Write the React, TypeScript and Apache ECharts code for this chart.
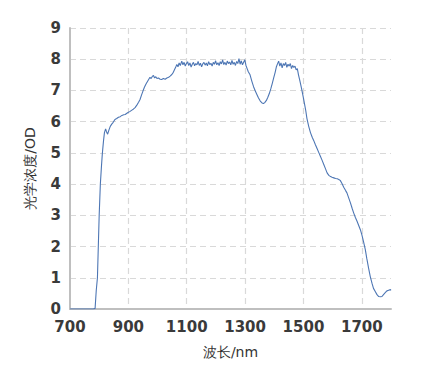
import React, { useEffect, useRef } from "react";
import * as echarts from "echarts";

const wavelength: number[] = [
  700, 780, 786, 790, 794, 797, 800, 804, 808, 811, 815, 818, 822, 825, 829, 833, 838, 843, 848, 854,
  860, 866, 872, 878, 884, 889, 895, 900, 906, 912, 917, 923, 929, 935, 940, 945, 950, 955, 960, 965,
  970, 974, 978, 982, 986, 990, 994, 998, 1003, 1009, 1014, 1020, 1026, 1032, 1038, 1043, 1049, 1054, 1058, 1062,
  1066, 1070, 1074, 1078, 1083, 1087, 1091, 1095, 1099, 1103, 1107, 1111, 1115, 1119, 1123, 1127, 1131, 1135, 1139, 1143,
  1147, 1151, 1155, 1159, 1163, 1167, 1171, 1175, 1179, 1183, 1187, 1191, 1195, 1199, 1203, 1207, 1211, 1215, 1219, 1223,
  1227, 1231, 1235, 1239, 1243, 1247, 1251, 1255, 1259, 1263, 1267, 1271, 1275, 1279, 1283, 1287, 1291, 1295, 1299, 1303,
  1307, 1311, 1317, 1323, 1329, 1335, 1340, 1346, 1352, 1358, 1363, 1368, 1373, 1378, 1383, 1388, 1393, 1398, 1403, 1407,
  1411, 1415, 1419, 1423, 1427, 1431, 1435, 1439, 1443, 1447, 1451, 1455, 1459, 1463, 1467, 1471, 1475, 1479, 1483, 1488,
  1493, 1498, 1503, 1508, 1512, 1518, 1524, 1530, 1535, 1541, 1547, 1553, 1558, 1564, 1570, 1576, 1581, 1587, 1593, 1598,
  1604, 1610, 1616, 1621, 1626, 1632, 1638, 1644, 1649, 1655, 1661, 1667, 1672, 1678, 1684, 1690, 1695, 1700, 1706, 1712,
  1717, 1723, 1729, 1735, 1740, 1746, 1752, 1758, 1764, 1769, 1775, 1781, 1786, 1792, 1798, 1800,
];

const opticalDensity: number[] = [
  0, 0, 0.02, 0.6, 1.0, 2.0, 3.0, 4.0, 4.6, 5.0, 5.4, 5.65, 5.77, 5.68, 5.6, 5.72, 5.85, 5.92, 5.98, 6.07,
  6.1, 6.14, 6.16, 6.2, 6.22, 6.23, 6.27, 6.3, 6.33, 6.37, 6.4, 6.45, 6.53, 6.62, 6.71, 6.85, 6.98, 7.1, 7.2, 7.28,
  7.36, 7.42, 7.38, 7.45, 7.48, 7.4, 7.44, 7.38, 7.4, 7.36, 7.35, 7.38, 7.36, 7.4, 7.42, 7.46, 7.51, 7.58, 7.66, 7.74,
  7.83, 7.76, 7.88, 7.8, 7.94, 7.82, 7.9, 7.78, 7.86, 7.92, 7.8, 7.88, 7.75, 7.84, 7.9, 7.79, 7.86, 7.82, 7.93, 7.8,
  7.87, 7.76, 7.85, 7.9, 7.81, 7.88, 7.79, 7.92, 7.83, 7.87, 7.78, 7.9, 7.84, 7.95, 7.82, 7.89, 7.8, 7.92, 7.85, 7.98,
  7.83, 7.9, 7.81, 7.94, 7.86, 7.91, 7.82, 7.96, 7.84, 7.9, 7.8, 7.93, 7.86, 8.02, 7.84, 7.95, 7.82, 7.9, 7.98, 7.8,
  7.7, 7.6, 7.5, 7.3, 7.12, 6.98, 6.88, 6.76, 6.66, 6.6, 6.58, 6.62, 6.68, 6.78, 6.9, 7.05, 7.22, 7.4, 7.58, 7.75,
  7.85, 7.94, 7.78, 7.88, 7.72, 7.86, 7.8, 7.9, 7.74, 7.84, 7.78, 7.86, 7.7, 7.8, 7.74, 7.78, 7.66, 7.7, 7.5, 7.3,
  7.08, 6.85, 6.6, 6.35, 6.1, 5.85, 5.65, 5.5, 5.4, 5.26, 5.13, 5.0, 4.89, 4.76, 4.62, 4.48, 4.36, 4.28, 4.24, 4.22,
  4.2, 4.18, 4.17, 4.15, 4.12, 4.02, 3.9, 3.8, 3.72, 3.56, 3.4, 3.22, 3.08, 2.93, 2.8, 2.66, 2.54, 2.38, 2.15, 1.9,
  1.62, 1.32, 1.04, 0.82, 0.66, 0.56, 0.46, 0.4, 0.39, 0.4, 0.47, 0.53, 0.58, 0.6, 0.62, 0.6,
];

const xAxisName = "波长/nm";
const yAxisName = "光学浓度/OD";

export default function App() {
  const ref = useRef<HTMLDivElement>(null);
  useEffect(() => {
    if (!ref.current) return;
    const chart = echarts.init(ref.current, undefined, { renderer: "svg" });
    const data = wavelength.map((w, i) => [w, opticalDensity[i]]);
    const font = "'DejaVu Sans', sans-serif";
    chart.setOption({
      animation: false,
      backgroundColor: "#ffffff",
      grid: { left: 62, right: 22, top: 20, bottom: 66, containLabel: false },
      xAxis: {
        type: "value",
        min: 700,
        max: 1800,
        interval: 200,
        name: xAxisName,
        nameLocation: "middle",
        nameGap: 36,
        nameTextStyle: { color: "#333", fontSize: 14, fontFamily: font },
        axisLine: { show: true, lineStyle: { color: "#bfbfbf", width: 2 } },
        axisTick: { show: false },
        axisLabel: {
          color: "#3a3a3a",
          fontSize: 15,
          fontWeight: "bold",
          fontFamily: font,
          margin: 10,
          showMaxLabel: false,
          formatter: (v: number) => String(v),
        },
        splitLine: {
          show: true,
          showMinLine: false,
          showMaxLine: false,
          lineStyle: { color: "#d9d9d9", type: [6, 4], width: 1.2 },
        },
      },
      yAxis: {
        type: "value",
        min: 0,
        max: 9,
        interval: 1,
        name: yAxisName,
        nameLocation: "middle",
        nameGap: 33,
        nameRotate: 90,
        nameTextStyle: { color: "#333", fontSize: 14, fontFamily: font },
        axisLine: { show: true, lineStyle: { color: "#bfbfbf", width: 2 } },
        axisTick: { show: false },
        axisLabel: {
          color: "#3a3a3a",
          fontSize: 15,
          fontWeight: "bold",
          fontFamily: font,
          margin: 9,
          formatter: (v: number) => String(v),
        },
        splitLine: {
          show: true,
          showMinLine: false,
          lineStyle: { color: "#d9d9d9", type: [6, 4], width: 1.2 },
        },
      },
      series: [
        {
          type: "line",
          data,
          showSymbol: false,
          symbol: "none",
          lineStyle: { color: "#4d76b4", width: 1.1 },
        },
      ],
    });
    return () => chart.dispose();
  }, []);
  return <div ref={ref} style={{ width: 405, height: 367 }} />;
}
